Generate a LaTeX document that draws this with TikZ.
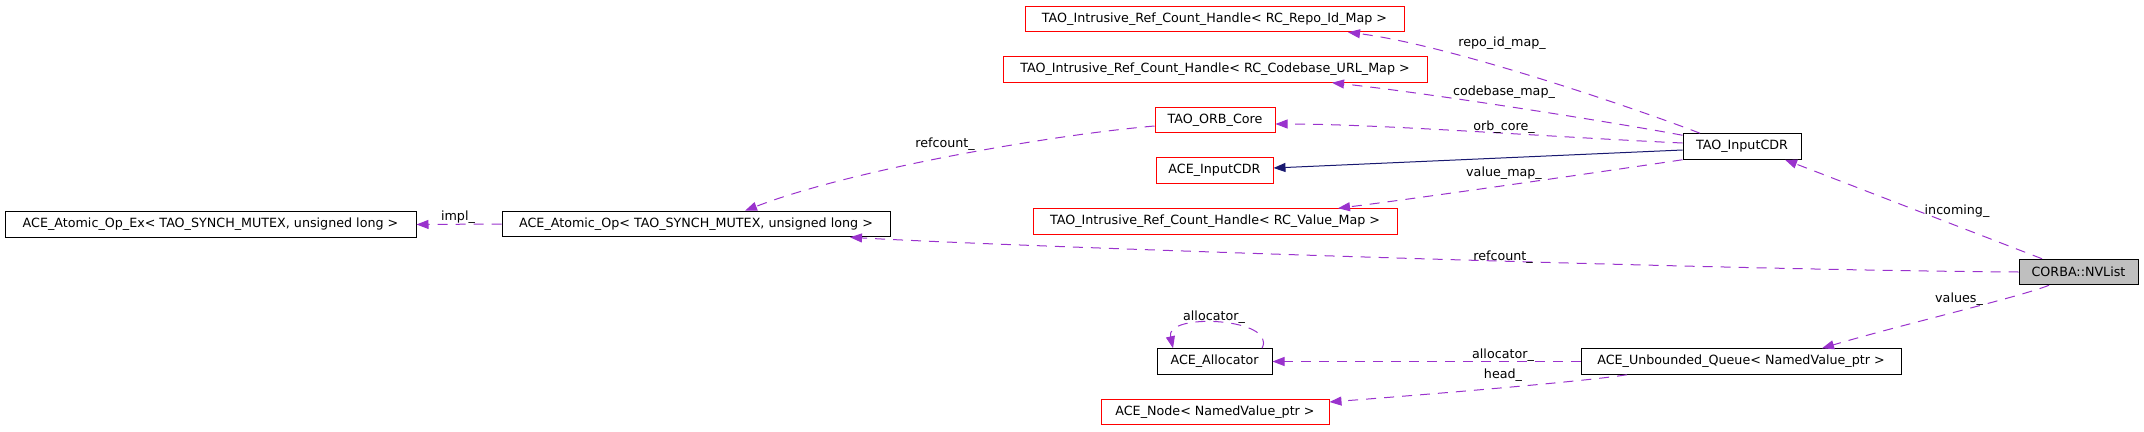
\documentclass[tikz,border=0pt]{standalone}
\usepackage{fontspec}
\setmainfont{DejaVu Sans}
\usetikzlibrary{arrows.meta}
\definecolor{roxo}{HTML}{9A32CD}
\definecolor{azulnoite}{HTML}{191970}
\definecolor{cinza}{HTML}{BFBFBF}

\begin{document}
\begin{tikzpicture}[x=1pt, y=-1pt,
	font=\fontsize{12.7}{15}\selectfont,
	classe/.style={draw=black, line width=1pt, minimum height=25.5pt, inner sep=0pt},
	externa/.style={classe, draw=red},
	uso/.style={draw=roxo, line width=1pt, dash pattern=on 10pt off 8pt, -{Triangle[length=12pt,width=9pt]}},
	heranca/.style={draw=azulnoite, line width=1pt, -{Triangle[length=12pt,width=9pt]}}]
	
	% A moldura
	\useasboundingbox (0,0) rectangle (2144,431);
	
	% As classes da esquerda
	\node [classe, minimum width=411pt] (atomicex) at (210.5,224.5) {ACE\_Atomic\_Op\_Ex< TAO\_SYNCH\_MUTEX, unsigned long >};
	\node [classe, minimum width=388pt] (atomicop) at (696,224) {ACE\_Atomic\_Op< TAO\_SYNCH\_MUTEX, unsigned long >};
	
	% As classes do meio
	\node [externa, minimum width=379pt] (repo) at (1214.5,19) {TAO\_Intrusive\_Ref\_Count\_Handle< RC\_Repo\_Id\_Map >};
	\node [externa, minimum width=424pt] (codebase) at (1215,69.5) {TAO\_Intrusive\_Ref\_Count\_Handle< RC\_Codebase\_URL\_Map >};
	\node [externa, minimum width=120pt] (orbcore) at (1215,120) {TAO\_ORB\_Core};
	\node [externa, minimum width=117pt] (aceinput) at (1214.5,170.5) {ACE\_InputCDR};
	\node [externa, minimum width=364pt] (valuemap) at (1215,221.5) {TAO\_Intrusive\_Ref\_Count\_Handle< RC\_Value\_Map >};
	\node [classe, minimum width=115pt] (allocator) at (1214.5,361.5) {ACE\_Allocator};
	\node [externa, minimum width=228pt] (acenode) at (1215,412) {ACE\_Node< NamedValue\_ptr >};
	
	% As classes da direita
	\node [classe, minimum width=118pt] (taoinput) at (1742,146.5) {TAO\_InputCDR};
	\node [classe, minimum width=320pt] (queue) at (1741,361.5) {ACE\_Unbounded\_Queue< NamedValue\_ptr >};
	\node [classe, fill=cinza, minimum width=119pt] (nvlist) at (2078.5,272) {CORBA::NVList};
	
	% A seta "impl_"
	\draw [uso] (atomicop.west) -- (atomicex.east);
	
	% A seta "refcount_" de cima
	\draw [uso] ([yshift=-6pt]orbcore.west) .. controls (1050,135) and (850,170) .. ([xshift=49pt]atomicop.north);
	
	% A seta "refcount_" de baixo
	\draw [uso] (nvlist.west) .. controls (1700,270) and (1000,246) .. ([xshift=154pt]atomicop.south);
	
	% As setas que saem de TAO_InputCDR
	\draw [uso] ([xshift=-42pt]taoinput.north) .. controls (1640,110) and (1450,45) .. ([xshift=133.5pt]repo.south);
	\draw [uso] ([yshift=-2pt]taoinput.north west) .. controls (1600,120) and (1420,92) .. ([xshift=117pt]codebase.south);
	\draw [uso] ([yshift=3.5pt]taoinput.west) .. controls (1550,137) and (1380,124) .. ([yshift=-4pt]orbcore.east);
	\draw [heranca] ([yshift=-3.5pt]taoinput.west) -- ([yshift=2.5pt]aceinput.east);
	\draw [uso] (taoinput.south west) .. controls (1600,172) and (1420,198) .. ([xshift=123pt]valuemap.north);
	
	% A seta "incoming_"
	\draw [uso] ([xshift=-36.5pt]nvlist.north) -- ([xshift=43pt]taoinput.south);
	
	% A seta "values_"
	\draw [uso] ([xshift=-29.5pt]nvlist.south) .. controls (2020,297) and (1900,325) .. ([xshift=81pt]queue.north);
	
	% As setas "allocator_" e "head_"
	\draw [uso] (queue.west) -- (allocator.east);
	\draw [uso] ([xshift=-114pt]queue.south) .. controls (1580,382) and (1420,395) .. ([yshift=10pt]acenode.east);
	
	% O laço "allocator_"
	\draw [uso] ([xshift=47.5pt]allocator.north) .. controls (1278,318) and (1165,312) .. ([xshift=-41.5pt]allocator.north);
	
	% Os rótulos
	\node (rimpl) at (458,217) {impl\_};
	\node (rrefcima) at (945,144) {refcount\_};
	\node (rrepo) at (1502,43) {repo\_id\_map\_};
	\node (rcodebase) at (1504,92) {codebase\_map\_};
	\node (rorb) at (1504,127) {orb\_core\_};
	\node (rvalue) at (1504,173) {value\_map\_};
	\node (rincoming) at (1957,211) {incoming\_};
	\node (rrefbaixo) at (1503,257) {refcount\_};
	\node (rvalues) at (1959,299) {values\_};
	\node (rlaco) at (1214,317) {allocator\_};
	\node (ralloc) at (1503,355) {allocator\_};
	\node (rhead) at (1503,375) {head\_};
	
\end{tikzpicture}
\end{document}
